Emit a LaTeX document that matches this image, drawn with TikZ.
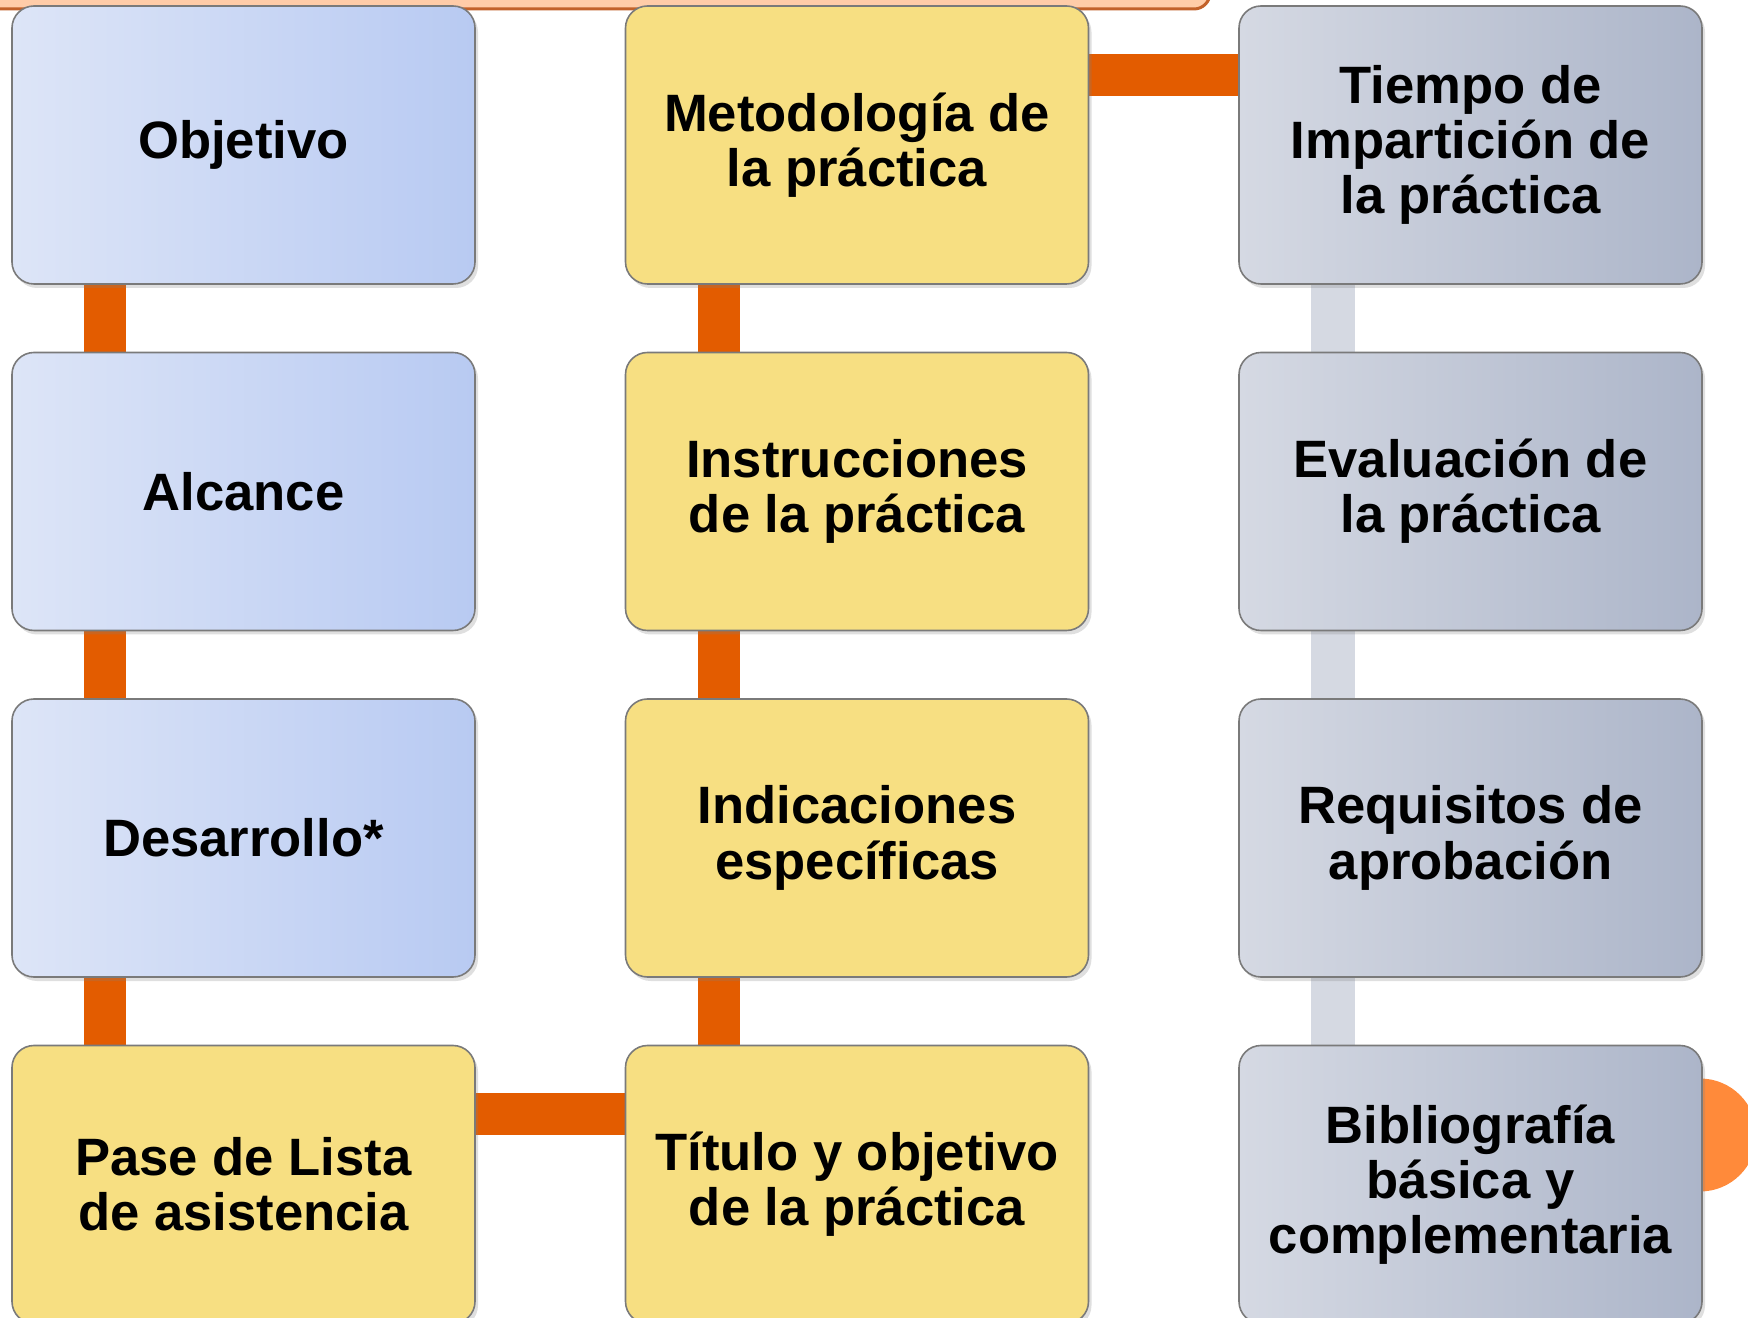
\documentclass[tikz,border=0pt]{standalone}
\usepackage{fontspec}
\setmainfont{Liberation Sans}
\usetikzlibrary{shadows,backgrounds}
\definecolor{naranja}{HTML}{E35C00}
\definecolor{durazno}{HTML}{FFCCA8}
\definecolor{borde}{HTML}{C2612A}
\definecolor{circulo}{HTML}{FF8A3A}
\definecolor{amarillo}{HTML}{F7DF82}
\definecolor{azulA}{HTML}{DDE5F7}
\definecolor{azulB}{HTML}{B8CAF2}
\definecolor{grisA}{HTML}{D5D9E3}
\definecolor{grisB}{HTML}{ACB5C9}
\definecolor{grisenlace}{HTML}{D5D9E2}
\definecolor{linea}{HTML}{7A7A7A}
\begin{document}
\begin{tikzpicture}[x=50pt, y=50pt,
  caja/.style={rounded corners=11pt, draw=linea, line width=0.8pt,
    minimum width=231.5pt, minimum height=139pt, inner sep=0pt, align=center,
    font=\fontsize{26.3}{27.6}\selectfont\bfseries,
    drop shadow={shadow xshift=1.5pt, shadow yshift=-2pt, opacity=0.25}},
  azul/.style={caja, left color=azulA, right color=azulB},
  ama/.style={caja, fill=amarillo},
  gris/.style={caja, left color=grisA, right color=grisB},
  enlace/.style={naranja, line width=21pt},
  enlacegris/.style={grisenlace, line width=22pt}]
\useasboundingbox (0, 0) rectangle (17.48, 13.17);
\def\dx{2.435}
\def\dy{11.72}
\def\sx{6.135}
\def\sy{3.465}

\node[azul] (obj) at (\dx, \dy) {Objetivo};
\node[azul] (alc) at (\dx, \dy - \sy) {Alcance};
\node[azul] (des) at (\dx, \dy - 2*\sy) {Desarrollo*};
\node[ama] (pas) at (\dx, \dy - 3*\sy) {Pase de Lista\\de asistencia};
\node[ama] (met) at (\dx + \sx, \dy) {Metodología de\\la práctica};
\node[ama] (ins) at (\dx + \sx, \dy - \sy) {Instrucciones\\de la práctica};
\node[ama] (ind) at (\dx + \sx, \dy - 2*\sy) {Indicaciones\\específicas};
\node[ama] (tit) at (\dx + \sx, \dy - 3*\sy) {Título y objetivo\\de la práctica};
\node[gris] (tie) at (\dx + 2*\sx, \dy) {Tiempo de\\Impartición de\\la práctica};
\node[gris] (eva) at (\dx + 2*\sx, \dy - \sy) {Evaluación de\\la práctica};
\node[gris] (req) at (\dx + 2*\sx, \dy - 2*\sy) {Requisitos de\\aprobación};
\node[gris] (bib) at (\dx + 2*\sx, \dy - 3*\sy) {Bibliografía\\básica y\\complementaria};

\begin{scope}[on background layer]
\draw[fill=durazno, draw=borde, line width=1.5pt, rounded corners=8pt] (-1, 13.08) rectangle (12.10, 14);
\fill[circulo] (17.00, 1.82) circle (0.565);

\draw[enlace] ([xshift=47pt]obj.south west) -- ([xshift=47pt]alc.north west);
\draw[enlace] ([xshift=47pt]alc.south west) -- ([xshift=47pt]des.north west);
\draw[enlace] ([xshift=47pt]des.south west) -- ([xshift=47pt]pas.north west);
\draw[enlace] ([yshift=-34.5pt]pas.north east) -- ([yshift=-34.5pt]tit.north west);
\draw[enlace] ([xshift=47pt]tit.north west) -- ([xshift=47pt]ind.south west);
\draw[enlace] ([xshift=47pt]ind.north west) -- ([xshift=47pt]ins.south west);
\draw[enlace] ([xshift=47pt]ins.north west) -- ([xshift=47pt]met.south west);
\draw[enlace] ([yshift=-35pt]met.north east) -- ([yshift=-35pt]tie.north west);
\draw[enlacegris] ([xshift=47.5pt]tie.south west) -- ([xshift=47.5pt]eva.north west);
\draw[enlacegris] ([xshift=47.5pt]eva.south west) -- ([xshift=47.5pt]req.north west);
\draw[enlacegris] ([xshift=47.5pt]req.south west) -- ([xshift=47.5pt]bib.north west);
\end{scope}
\end{tikzpicture}
\end{document}
